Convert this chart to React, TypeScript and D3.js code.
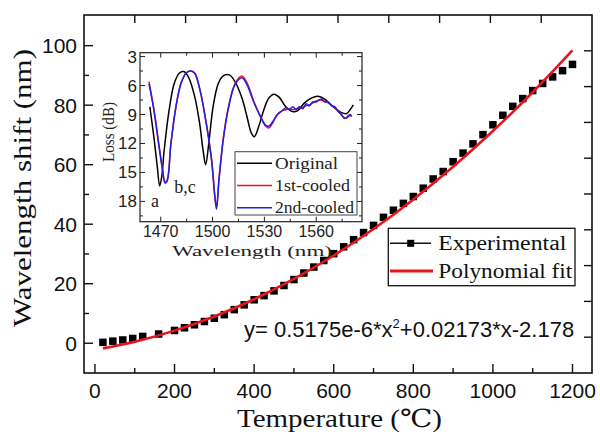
import React from 'react';
import * as d3 from 'd3';

// experimental points (temperature in degC, shift in nm)
const tempC = [20, 45, 70, 95, 120, 160, 200, 225, 250, 275, 300, 325, 350, 375, 400, 425, 450, 475, 500, 525, 550, 575, 600, 625, 650, 675, 700, 725, 750, 775, 800, 825, 850, 875, 900, 925, 950, 975, 1000, 1025, 1050, 1075, 1100, 1125, 1150, 1175, 1200];
const shiftNm = [0.3, 0.7, 1.1, 1.6, 2.3, 3.1, 4.3, 5.2, 6.2, 7.3, 8.4, 9.6, 11.3, 12.9, 14.6, 16.0, 17.6, 19.4, 21.4, 23.6, 25.6, 27.8, 30.1, 32.4, 34.8, 37.2, 39.6, 42.3, 44.7, 47.0, 49.3, 52.1, 55.2, 57.7, 61.0, 63.9, 67.0, 70.1, 73.4, 76.6, 79.6, 82.2, 84.9, 87.3, 89.5, 91.6, 93.7];

// polynomial fit curve
const fitTemp = [20, 100, 200, 300, 400, 500, 600, 700, 800, 900, 1000, 1100, 1200];
const fitShift = [-1.73, 0.51, 4.24, 9.0, 14.79, 21.62, 29.49, 38.39, 48.33, 59.3, 71.3, 84.34, 98.42];

const xTickVals = [0, 200, 400, 600, 800, 1000, 1200];
const yTickVals = [0, 20, 40, 60, 80, 100];

// inset spectra
const wlOriginal = [1463.7, 1466, 1468, 1469.4, 1470.6, 1472, 1474.9, 1477.8, 1480.8, 1483.3, 1486, 1489.6, 1492.5, 1494.5, 1496, 1497.8, 1500.3, 1503.3, 1506.2, 1509.7, 1513, 1517, 1519.9, 1522.4, 1524.2, 1526.8, 1529.7, 1532.6, 1535.6, 1538.5, 1542.4, 1546.3, 1549.3, 1553.2, 1557.1, 1561, 1564.9, 1569.8, 1574.7, 1577.6, 1579.6, 1581.5];
const lossOriginal = [8.2, 11.3, 14.4, 16.4, 15.4, 12.7, 8.5, 5.8, 4.7, 4.55, 5.1, 7.1, 9.9, 12.7, 14.2, 12.0, 8.2, 5.8, 5.0, 4.9, 5.6, 7.3, 9.2, 10.9, 11.3, 10.2, 8.5, 7.3, 6.9, 7.2, 8.2, 8.7, 8.6, 7.8, 7.3, 7.1, 7.4, 8.2, 8.8, 8.9, 8.5, 8.0];

const wlCooled = [1463.2, 1466, 1469, 1471, 1472.5, 1473.7, 1475.9, 1478.8, 1481.7, 1484.7, 1487.2, 1489.6, 1492.5, 1495.4, 1499.4, 1501.3, 1502.3, 1503.7, 1506.2, 1509, 1513, 1517, 1519.9, 1523.8, 1527.7, 1530.7, 1532.6, 1535, 1537.5, 1540.4, 1542.5, 1544.4, 1546.5, 1548.3, 1550.2, 1552.2, 1554.1, 1556.1, 1558, 1560, 1562.9, 1564.8, 1566.9, 1568.8, 1570.8, 1572.7, 1574.7, 1576.2, 1577.6, 1578.6, 1579.6, 1580.5];
const loss1st = [5.6, 8.4, 12.2, 14.6, 16.0, 15.8, 12.0, 8.2, 5.8, 4.7, 4.5, 4.7, 6.3, 8.9, 13.6, 17.4, 18.6, 15.7, 11.5, 8.4, 5.8, 5.0, 5.7, 7.6, 9.2, 10.2, 10.4, 9.8, 9.0, 8.6, 8.5, 8.4, 8.5, 8.4, 8.3, 8.3, 8.1, 8.0, 7.8, 7.6, 7.5, 7.6, 7.8, 8.0, 8.3, 8.6, 9.1, 9.3, 9.4, 9.1, 9.1, 9.2];
const loss2nd = [5.8, 8.5, 12.3, 14.7, 16.1, 15.9, 12.0, 8.2, 5.8, 4.7, 4.5, 4.7, 6.3, 8.9, 13.7, 17.5, 18.8, 15.8, 11.6, 8.5, 5.9, 5.2, 5.9, 7.7, 9.2, 10.1, 10.2, 9.7, 9.0, 8.6, 8.3, 8.5, 8.2, 8.5, 8.2, 8.4, 7.9, 8.1, 7.7, 7.7, 7.4, 7.7, 7.7, 8.1, 8.2, 8.7, 9.0, 9.4, 9.3, 9.2, 9.0, 9.2];

const insetXTicks = [1470, 1500, 1530, 1560];
const insetYTicks = [3, 6, 9, 12, 15, 18];
const insetLegend = ['Original', '1st-cooled', '2nd-cooled'];
const insetColors = ['#000000', '#e8141c', '#1f1fe6'];

const SERIF = '"Liberation Serif", "DejaVu Serif", serif';
const SANS = '"Liberation Sans", Arial, sans-serif';

export default function App() {
  const L = 84, R = 592, T = 15, B = 373;
  const x = d3.scaleLinear().domain([-27.5, 1249]).range([L, R]);
  const y = d3.scaleLinear().domain([-10, 110.3]).range([B, T]);
  const topDiv = d3.scaleLinear().domain([0, 10]).range([L, R]);
  const rightDiv = d3.scaleLinear().domain([0, 10]).range([B, T]);

  // inset geometry
  const iL = 140, iR = 362, iT = 52.7, iB = 221.7;
  const ix = d3.scaleLinear().domain([1458, 1586.5]).range([iL, iR]);
  const iy = d3.scaleLinear().domain([2.6, 20.1]).range([iT, iB]);

  const fitLine = d3.line<number>()
    .x((d, i) => x(fitTemp[i]))
    .y(d => y(d))
    .curve(d3.curveMonotoneX);

  const specLine = (wl: number[]) => d3.line<number>()
    .x((d, i) => ix(wl[i]))
    .y(d => iy(d))
    .curve(d3.curveCatmullRom.alpha(0.5));

  const sq = 7.5;

  return (
    <svg width={600} height={432} style={{ position: 'absolute', left: 0, top: 0, background: '#fff' }}>
      <rect x={0} y={0} width={600} height={432} fill="#fff" />

      {/* experimental squares, fit line on top */}
      {tempC.map((t, i) => (
        <rect key={'p' + i} x={x(t) - sq / 2} y={y(shiftNm[i]) - sq / 2} width={sq} height={sq} fill="#000" />
      ))}
      <path d={fitLine(fitShift) || ''} fill="none" stroke="#e8141c" strokeWidth={2.6} />

      {/* main frame and ticks */}
      <rect x={L} y={T} width={R - L} height={B - T} fill="none" stroke="#111" strokeWidth={1.6} />
      {d3.range(0, 1201, 100).map(v => (
        <line key={'xt' + v} x1={x(v)} x2={x(v)} y1={B} y2={B - (v % 200 === 0 ? 9 : 5)} stroke="#111" strokeWidth={1.4} />
      ))}
      {d3.range(0, 101, 10).map(v => (
        <line key={'yt' + v} x1={L} x2={L + (v % 20 === 0 ? 9 : 5)} y1={y(v)} y2={y(v)} stroke="#111" strokeWidth={1.4} />
      ))}
      {d3.range(1, 10).map(i => (
        <line key={'tt' + i} x1={topDiv(i)} x2={topDiv(i)} y1={T} y2={T + 8} stroke="#111" strokeWidth={1.4} />
      ))}
      {d3.range(1, 10).map(i => (
        <line key={'rt' + i} x1={R} x2={R - 8} y1={rightDiv(i)} y2={rightDiv(i)} stroke="#111" strokeWidth={1.4} />
      ))}
      {xTickVals.map(v => (
        <text key={'xl' + v} x={x(v)} y={398} textAnchor="middle" fontFamily={SANS} fontSize={21} fill="#111">{v}</text>
      ))}
      {yTickVals.map(v => (
        <text key={'yl' + v} x={77} y={y(v) + 7.5} textAnchor="end" fontFamily={SANS} fontSize={21} fill="#111">{v}</text>
      ))}

      <text x={339.5} y={427} textAnchor="middle" fontFamily={SERIF} fontSize={25} fill="#111"
        textLength={205} lengthAdjust="spacingAndGlyphs">Temperature (℃)</text>
      <text transform="translate(31,188) rotate(-90)" textAnchor="middle" fontFamily={SERIF} fontSize={26} fill="#111"
        textLength={278} lengthAdjust="spacingAndGlyphs">Wavelength shift (nm)</text>

      {/* main legend */}
      <rect x={388.3} y={228.3} width={186.7} height={57.4} fill="#fff" stroke="#111" strokeWidth={1.3} />
      <line x1={390} x2={431} y1={243.3} y2={243.3} stroke="#111" strokeWidth={1.5} />
      <rect x={410.7 - 3.5} y={243.3 - 3.5} width={7} height={7} fill="#000" />
      <text x={438.3} y={249.8} fontFamily={SERIF} fontSize={20} fill="#111" textLength={128} lengthAdjust="spacingAndGlyphs">Experimental</text>
      <line x1={390} x2={433} y1={271} y2={271} stroke="#e8141c" strokeWidth={3} />
      <text x={438.3} y={277.5} fontFamily={SERIF} fontSize={20} fill="#111" textLength={134} lengthAdjust="spacingAndGlyphs">Polynomial fit</text>

      {/* equation */}
      <text x={244} y={337} fontFamily={SANS} fontSize={22} fill="#111">
        y= 0.5175e-6*x<tspan fontSize={13} dy={-9}>2</tspan><tspan dy={9}>+0.02173*x-2.178</tspan>
      </text>

      {/* inset */}
      <rect x={iL} y={iT} width={iR - iL} height={iB - iT} fill="#fff" stroke="#222" strokeWidth={1.2} />
      <path d={specLine(wlOriginal)(lossOriginal) || ''} fill="none" stroke={insetColors[0]} strokeWidth={1.5} />
      <path d={specLine(wlCooled)(loss1st) || ''} fill="none" stroke={insetColors[1]} strokeWidth={1.5} />
      <path d={specLine(wlCooled)(loss2nd) || ''} fill="none" stroke={insetColors[2]} strokeWidth={1.5} />
      {d3.range(1470, 1586, 15).map(v => {
        const len = (v - 1470) % 30 === 0 ? 5 : 3;
        return (
          <g key={'ixt' + v}>
            <line x1={ix(v)} x2={ix(v)} y1={iB} y2={iB - len} stroke="#222" strokeWidth={1} />
            <line x1={ix(v)} x2={ix(v)} y1={iT} y2={iT + len} stroke="#222" strokeWidth={1} />
          </g>
        );
      })}
      {d3.range(3, 20, 1.5).map(v => {
        const len = (v % 3 === 0) ? 5 : 3;
        return (
          <g key={'iyt' + v}>
            <line x1={iL} x2={iL + len} y1={iy(v)} y2={iy(v)} stroke="#222" strokeWidth={1} />
            <line x1={iR} x2={iR - len} y1={iy(v)} y2={iy(v)} stroke="#222" strokeWidth={1} />
          </g>
        );
      })}
      {insetXTicks.map(v => (
        <text key={'ixl' + v} x={ix(v)} y={237} textAnchor="middle" fontFamily={SANS} fontSize={16} fill="#222">{v}</text>
      ))}
      {insetYTicks.map(v => (
        <text key={'iyl' + v} x={137} y={iy(v) + 6} textAnchor="end" fontFamily={SANS} fontSize={17} fill="#222">{v}</text>
      ))}
      <text x={252} y={256} textAnchor="middle" fontFamily={SERIF} fontSize={15} fill="#222"
        textLength={160} lengthAdjust="spacingAndGlyphs">Wavelength (nm)</text>
      <text transform="translate(114,132) rotate(-90)" textAnchor="middle" fontFamily={SERIF} fontSize={16} fill="#222"
        textLength={60} lengthAdjust="spacingAndGlyphs">Loss (dB)</text>
      <text x={151} y={206.7} fontFamily={SERIF} fontSize={18} fill="#222">a</text>
      <text x={174.3} y={192.7} fontFamily={SERIF} fontSize={18} fill="#222">b,c</text>

      {/* inset legend */}
      <rect x={235} y={151.7} width={122} height={63.3} fill="#fff" stroke="#444" strokeWidth={1} />
      {insetLegend.map((name, i) => {
        const ry = 163.3 + i * 22.2;
        return (
          <g key={'il' + i}>
            <line x1={237} x2={272} y1={ry} y2={ry} stroke={insetColors[i]} strokeWidth={1.5} />
            <text x={275} y={ry + 5.5} fontFamily={SERIF} fontSize={16} fill="#222"
              textLength={[63, 75, 79][i]} lengthAdjust="spacingAndGlyphs">{name}</text>
          </g>
        );
      })}
    </svg>
  );
}
